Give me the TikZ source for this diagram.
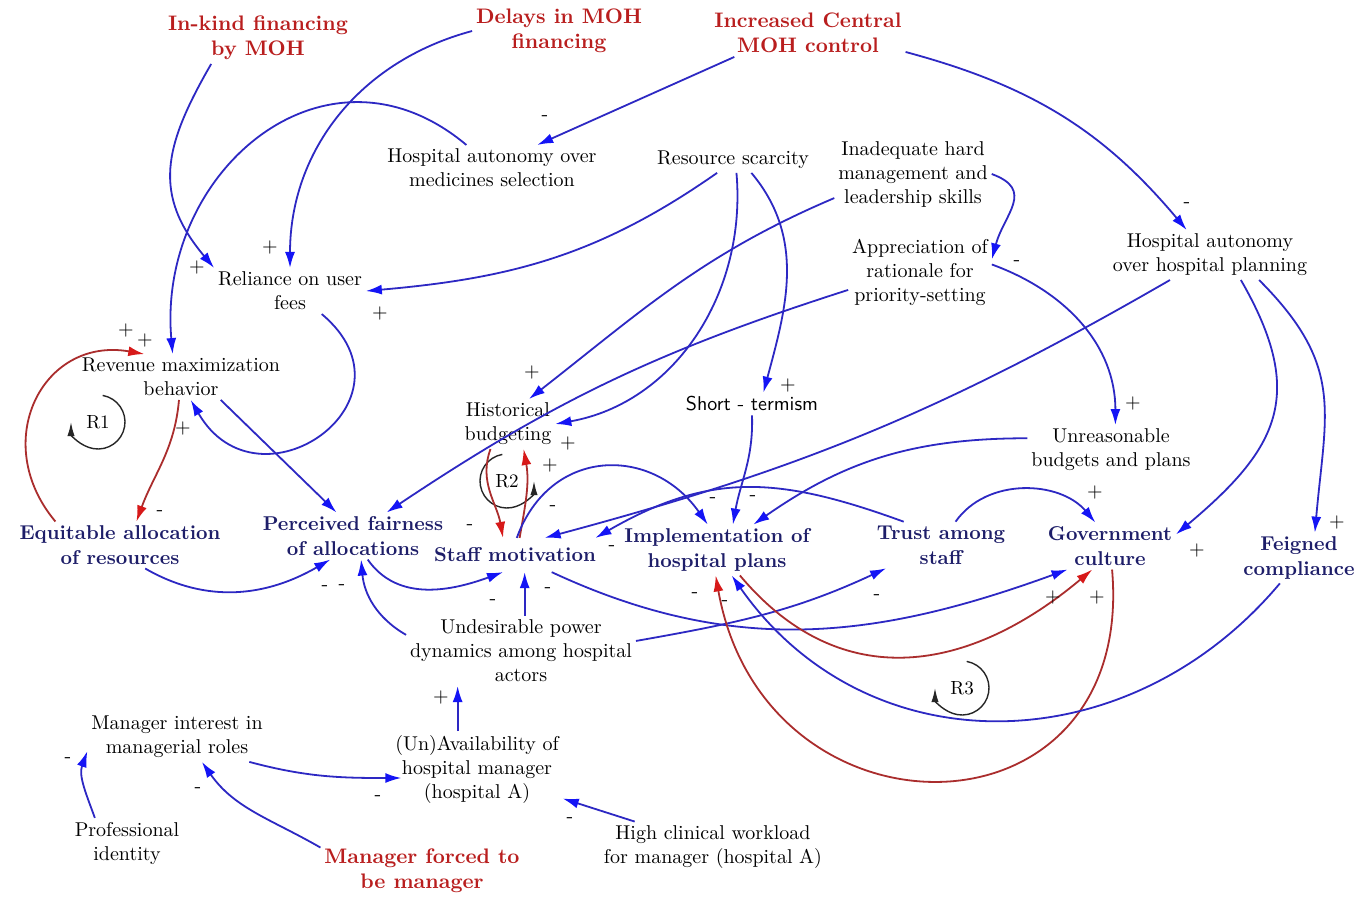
\documentclass[tikz,border=0pt]{standalone}
\usetikzlibrary{arrows.meta}
\definecolor{linkblue}{RGB}{45,40,195}
\definecolor{tipblue}{RGB}{20,20,245}
\definecolor{linkred}{RGB}{170,45,45}
\definecolor{tipred}{RGB}{215,25,25}
\definecolor{keynavy}{RGB}{30,30,105}
\definecolor{extred}{RGB}{185,30,30}
\tikzset{
  var/.style={align=center, inner sep=2pt, outer sep=0pt, text=black, font=\fontsize{10}{12}\selectfont},
  keyvar/.style={var, text=keynavy, font=\fontsize{10}{12.5}\selectfont\bfseries},
  extvar/.style={var, text=extred, font=\fontsize{10.5}{12.5}\selectfont\bfseries},
  link/.style={draw=linkblue, line width=0.9pt, -{Latex[length=8pt,width=5pt,color=tipblue]}},
  redlink/.style={draw=linkred, line width=0.9pt, -{Latex[length=8pt,width=5pt,color=tipred]}},
  sgn/.style={inner sep=0pt, font=\fontsize{10}{10}\selectfont},
  loopmark/.style={circle, minimum size=27pt, inner sep=0pt, outer sep=0pt, font=\fontsize{9.5}{9.5}\selectfont},
  looparrow/.style={draw=black!85, line width=0.7pt, -{Latex[length=7pt,width=3.6pt]}}
}
\begin{document}
\begin{tikzpicture}[x=0.5pt, y=-0.5pt]
	\fill[white] (0,0) rectangle (1372,896);
	\useasboundingbox (0,0) rectangle (1372,896);
	% variables
	\node[extvar] (inkind) at (258,38) {In-kind financing\\by MOH};
	\node[extvar] (delays) at (559,31) {Delays in MOH\\financing};
	\node[extvar] (central) at (808,33) {Increased Central\\MOH control};
	\node[var] (autonomymed) at (492,168) {Hospital autonomy over\\medicines selection};
	\node[var] (scarcity) at (733,160) {Resource scarcity};
	\node[var] (inadequate) at (913,174) {Inadequate hard\\management and\\leadership skills};
	\node[var] (appreciation) at (920,272) {Appreciation of\\rationale for\\priority-setting};
	\node[var] (autonomyplan) at (1210,255) {Hospital autonomy\\over hospital planning};
	\node[var] (reliance) at (290,291) {Reliance on user\\fees};
	\node[var] (revenue) at (181,377) {Revenue maximization\\behavior};
	\node[var] (historical) at (508,424) {Historical\\budgeting};
	\node[var, font=\fontsize{10}{12}\selectfont\sffamily] (shortterm) at (752,404) {Short - termism};
	\node[var] (unreasonable) at (1111,450) {Unreasonable\\budgets and plans};
	\node[keyvar] (equitable) at (120,545) {Equitable allocation\\of resources};
	\node[keyvar] (fairness) at (353,536) {Perceived fairness\\of allocations};
	\node[keyvar, inner ysep=5pt] (motivation) at (515,555) {Staff motivation};
	\node[keyvar] (implementation) at (717,550) {Implementation of\\hospital plans};
	\node[keyvar] (trust) at (941,545) {Trust among\\staff};
	\node[keyvar] (culture) at (1110,546) {Government\\culture};
	\node[keyvar] (feigned) at (1299,558) {Feigned\\compliance};
	\node[var] (power) at (521,651) {Undesirable power\\dynamics among hospital\\actors};
	\node[var] (interest) at (177,737) {Manager interest in\\managerial roles};
	\node[var] (availability) at (477,769) {(Un)Availability of\\hospital manager\\(hospital A)};
	\node[var] (professional) at (127,843) {Professional\\identity};
	\node[var] (workload) at (713,847) {High clinical workload\\for manager (hospital A)};
	\node[extvar] (forced) at (422,871) {Manager forced to\\be manager};
	% loops
	\node[loopmark] (rone) at (98,422) {R1};
	\node[loopmark] (rtwo) at (507,481) {R2};
	\node[loopmark] (rthree) at (962,688) {R3};
	\draw[looparrow] (rone.80) arc[start angle=80, end angle=-180, radius=13.5pt];
	\draw[looparrow] (rtwo.100) arc[start angle=100, end angle=360, radius=13.5pt];
	\draw[looparrow] (rthree.80) arc[start angle=80, end angle=-180, radius=13.5pt];
	% links
	\draw[link] (inkind.209) to[out=240,in=130,looseness=1.2] (reliance.north west);
	\draw[link] (delays.west) to[out=195,in=90] (reliance.north);
	\draw[link] (central.198) -- (autonomymed.27);
	\draw[link] (central.-11) to[out=-15,in=130] (autonomyplan.133);
	\draw[link] (autonomymed.138) to[out=140,in=95,looseness=1.3] (revenue.110);
	\draw[link] (scarcity.219) to[out=215,in=5] (reliance.east);
	\draw[link] (inadequate.197) to[out=203,in=38] (historical.50);
	\draw[link] (scarcity.-75) to[out=-85,in=10] (historical.east);
	\draw[link] (scarcity.-35) to[out=-50,in=75] (shortterm.45);
	\draw[link] (inadequate.east) to[out=-20,in=75,looseness=1.4] (appreciation.10);
	\draw[link] (appreciation.194) to[bend right=8] (fairness.35);
	\draw[redlink] (historical.235) to[out=250,in=100] (motivation.125);
	\draw[redlink] (motivation.75) to[out=80,in=-80] (historical.-58);
	\draw[link] (motivation.84) to[out=70,in=125,looseness=1.3] (implementation.110);
	\draw[link] (shortterm.south) to[out=-88,in=80] (implementation.58);
	\draw[link] (unreasonable.172) to[out=180,in=35] (implementation.35);
	\draw[link] (autonomyplan.212) to[out=210,in=15] (motivation.30);
	\draw[link] (trust.148) to[out=160,in=30,looseness=1.1] (motivation.12);
	\draw[link] (trust.58) to[out=55,in=130] (culture.122);
	\draw[link] (autonomyplan.-39) to[out=-60,in=40,looseness=1.3] (culture.10);
	\draw[link] (autonomyplan.-27) to[out=-45,in=85,looseness=1.2] (feigned.58);
	\draw[link] (appreciation.6) to[out=-20,in=90] (unreasonable.80);
	\draw[link] (reliance.-36) to[out=-40,in=-60,looseness=2.2] (revenue.-67);
	\draw[redlink] (revenue.-95) to[out=-95,in=70] (equitable.55);
	\draw[redlink] (equitable.160) to[out=130,in=170,looseness=1.4] (revenue.148);
	\draw[link] (revenue.-30) -- (fairness.125);
	\draw[link] (equitable.-43) to[out=-30,in=210] (fairness.226);
	\draw[link] (power.172) to[out=150,in=-85] (fairness.-71);
	\draw[link] (fairness.-58) to[out=-55,in=200] (motivation.235);
	\draw[link] (power.84) -- (power.84 |- motivation.south);
	\draw[link] (motivation.-25) to[out=-25,in=200] (culture.209);
	\draw[link] (power.5) to[out=10,in=205] (trust.203);
	\draw[redlink] (implementation.-48) to[out=-50,in=220,looseness=1.15] (culture.233);
	\draw[redlink] (culture.-85) to[out=-85,in=-80,looseness=1.8] (implementation.-93);
	\draw[link] (feigned.233) to[out=-130,in=-55,looseness=1.1] (implementation.-60);
	\draw[link] (interest.-19) to[out=-15,in=180] ([xshift=5pt]availability.186);
	\draw[link] (professional.142) to[out=110,in=250] (interest.189);
	\draw[link] (forced.167) to[out=150,in=-55] (interest.-45);
	\draw[link] (workload.162) -- (availability.-19);
	\draw[link] (availability.117) -- (availability.117 |- power.south);
	% polarities
	\foreach \sx/\sy [count=\si] in {197/267, 270/247, 380/313, 145/340, 126/330, 183/428, 532/372, 568/443, 550/465, 788/385, 1133/403, 1095/492, 1197/550, 1337/522, 1053/597, 1097/597, 441/697}
		\node[sgn] (plus\si) at (\sx,\sy) {+};
	\foreach \sx/\sy [count=\si] in {545/118, 1187/205, 1017/263, 160/513, 325/588, 342/587, 470/527, 553/508, 713/500, 753/498, 612/548, 493/602, 548/590, 877/597, 695/595, 725/603, 378/798, 68/760, 198/790, 570/820}
		\node[sgn] (minus\si) at (\sx,\sy) {-};
\end{tikzpicture}
\end{document}
